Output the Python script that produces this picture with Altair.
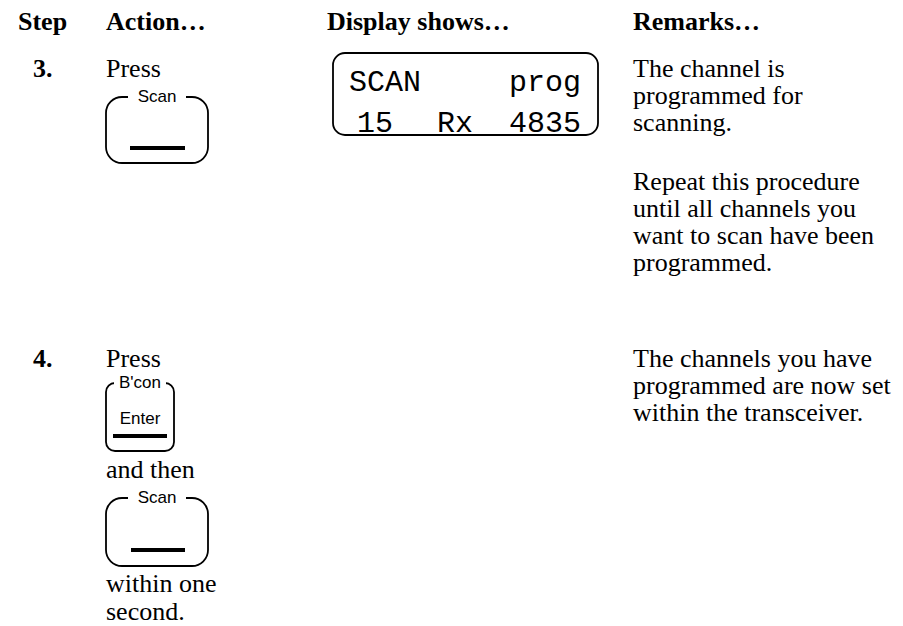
import altair as alt
import pandas as pd

# ---------------- content ----------------
header_text = ["Step", "Action…", "Display shows…", "Remarks…"]
header_x = [18, 106, 327, 633]
header_y = [30, 30, 30, 30]

step_text = ["3.", "4."]
step_x = [33, 33]
step_y = [77, 367]

action_text = ["Press", "Press", "and then", "within one", "second."]
action_y = [77, 367, 478, 592, 620]

remark_text = [
    "The channel is", "programmed for", "scanning.",
    "Repeat this procedure", "until all channels you",
    "want to scan have been", "programmed.",
    "The channels you have", "programmed are now set",
    "within the transceiver.",
]
remark_y = [77, 104, 131, 190, 217, 244, 271, 367, 394, 421]

# keys: top label, inner text, box left/right/top/bottom, corner radius, label gap
key_label = ["Scan", "B'con", "Scan"]
key_body = ["", "Enter", ""]
key_x1 = [106, 106, 106]
key_x2 = [208, 174, 208]
key_y1 = [97, 383, 498]
key_y2 = [163, 451, 566]
key_r = [16, 9, 16]
key_gap_w = [58, 52, 58]
key_bar_x1 = [130, 113, 131]
key_bar_x2 = [185, 167, 185]
key_bar_y = [148, 436, 550]

# LCD display
lcd_x1, lcd_x2, lcd_y1, lcd_y2 = 333, 598, 53, 135
lcd_text = ["SCAN", "prog", "15", "Rx", "4835"]
lcd_x = [349, 581, 357, 437, 581]
lcd_y = [91, 91, 132, 132, 132]
lcd_align = ["left", "right", "left", "left", "right"]

W, H = 887, 618
xs = alt.Scale(domain=[8, 8 + W], range=[0, W])
ys = alt.Scale(domain=[8, 8 + H], range=[0, H])


def X(f="x"):
    return alt.X(f"{f}:Q", scale=xs, axis=None)


def Y(f="y"):
    return alt.Y(f"{f}:Q", scale=ys, axis=None)


SERIF = "Liberation Serif"
SANS = "Liberation Sans"

hdr = pd.DataFrame({"t": header_text, "x": header_x, "y": header_y})
headers = alt.Chart(hdr).mark_text(
    font=SERIF, fontSize=26, fontWeight="bold", align="left", baseline="alphabetic"
).encode(x=X(), y=Y(), text="t:N")

stp = pd.DataFrame({"t": step_text, "x": step_x, "y": step_y})
steps = alt.Chart(stp).mark_text(
    font=SERIF, fontSize=26, fontWeight="bold", align="left", baseline="alphabetic"
).encode(x=X(), y=Y(), text="t:N")

act = pd.DataFrame({"t": action_text, "x": [106] * len(action_text), "y": action_y})
actions = alt.Chart(act).mark_text(
    font=SERIF, fontSize=26, align="left", baseline="alphabetic"
).encode(x=X(), y=Y(), text="t:N")

rem = pd.DataFrame({"t": remark_text, "x": [633] * len(remark_text), "y": remark_y})
remarks = alt.Chart(rem).mark_text(
    font=SERIF, fontSize=26, align="left", baseline="alphabetic"
).encode(x=X(), y=Y(), text="t:N")

keys = pd.DataFrame({
    "label": key_label, "body": key_body,
    "x1": key_x1, "x2": key_x2, "y1": key_y1, "y2": key_y2, "r": key_r,
    "gw": key_gap_w, "bx1": key_bar_x1, "bx2": key_bar_x2, "by": key_bar_y,
})
keys["cx"] = (keys.x1 + keys.x2) / 2
keys["gx1"] = keys.cx - keys.gw / 2
keys["gx2"] = keys.cx + keys.gw / 2
keys["gy1"] = keys.y1 - 3
keys["gy2"] = keys.y1 + 3
keys["by1"] = keys.by - 2
keys["by2"] = keys.by + 2
keys["ty"] = (keys.y1 + keys.y2) / 2 + 2

key_boxes = []
for i in range(len(keys)):
    k = keys.iloc[[i]]
    key_boxes.append(
        alt.Chart(k).mark_rect(
            fill="white", stroke="black", strokeWidth=1.8,
            cornerRadius=int(k.r.iloc[0]),
        ).encode(x=X("x1"), x2="x2:Q", y=Y("y1"), y2="y2:Q")
    )
key_gap = alt.Chart(keys).mark_rect(fill="white").encode(
    x=X("gx1"), x2="gx2:Q", y=Y("gy1"), y2="gy2:Q"
)
key_bar = alt.Chart(keys).mark_rect(fill="black").encode(
    x=X("bx1"), x2="bx2:Q", y=Y("by1"), y2="by2:Q"
)
key_lab = alt.Chart(keys).mark_text(
    font=SANS, fontSize=17, baseline="middle"
).encode(x=X("cx"), y=Y("y1"), text="label:N")
key_txt = alt.Chart(keys).mark_text(
    font=SANS, fontSize=17, baseline="middle"
).encode(x=X("cx"), y=Y("ty"), text="body:N")

lcd = pd.DataFrame({"x1": [lcd_x1], "x2": [lcd_x2], "y1": [lcd_y1], "y2": [lcd_y2]})
lcd_rect = alt.Chart(lcd).mark_rect(
    fill="white", stroke="black", strokeWidth=1.8, cornerRadius=12
).encode(x=X("x1"), x2="x2:Q", y=Y("y1"), y2="y2:Q")

lcd_df = pd.DataFrame({"t": lcd_text, "x": lcd_x, "y": lcd_y, "a": lcd_align})
lcd_l = alt.Chart(lcd_df[lcd_df.a == "left"]).mark_text(
    font="Liberation Mono", fontSize=30, align="left", baseline="alphabetic"
).encode(x=X(), y=Y(), text="t:N")
lcd_r = alt.Chart(lcd_df[lcd_df.a == "right"]).mark_text(
    font="Liberation Mono", fontSize=30, align="right", baseline="alphabetic"
).encode(x=X(), y=Y(), text="t:N")

chart = alt.layer(
    headers, steps, actions, remarks,
    *key_boxes, key_gap, key_bar, key_lab, key_txt,
    lcd_rect, lcd_l, lcd_r,
).properties(
    width=W, height=H,
    padding={"left": 0, "top": 0, "right": 0, "bottom": 0},
    autosize=alt.AutoSizeParams(type="none"),
).configure_view(
    stroke="transparent", strokeWidth=0
).configure(
    background="white", style={"cell": {"stroke": "transparent", "strokeWidth": 0}}
)

chart.save("out.html", embed_options={"renderer": "svg", "actions": False})
